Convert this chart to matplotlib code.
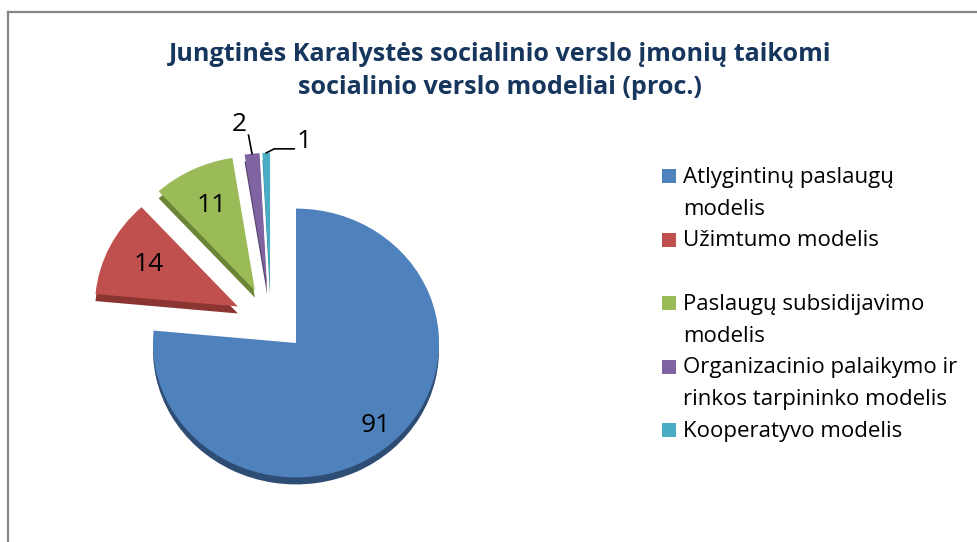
import textwrap
import matplotlib
matplotlib.use("Agg")
import matplotlib.pyplot as plt
from matplotlib.lines import Line2D
from matplotlib.patches import Rectangle
import numpy as np

# ---- data ----
categories = [
    "Atlygintinų paslaugų modelis",
    "Užimtumo modelis",
    "Paslaugų subsidijavimo modelis",
    "Organizacinio palaikymo ir rinkos tarpininko modelis",
    "Kooperatyvo modelis",
]
values = [91, 14, 11, 2, 1]
title = "Jungtinės Karalystės socialinio verslo įmonių taikomi\nsocialinio verslo modeliai (proc.)"

# ---- style ----
colors = ["#4F81BD", "#C0504D", "#9BBB59", "#8064A2", "#4BACC6"]
dark = ["#2E4D75", "#8A3532", "#6B8435", "#57466F", "#2F8197"]
FONT = "Open Sans"
W, H = 978, 542
K = 0.94          # vertical squash of the tilted pie
R = 143           # radius in px
DEPTH = 7         # 3-D thickness in px

fig = plt.figure(figsize=(W / 100, H / 100), dpi=100)
ax = fig.add_axes([0, 0, 1, 1])
ax.set_xlim(0, W)
ax.set_ylim(0, H / K)
ax.axis("off")


def d(xp, yp):
    """pixel (from top-left) -> data coords"""
    return (xp, (H - yp) / K)


total = sum(values)
fmt = lambda p: f"{p * total / 100:.0f}"

c_main = d(296, 343)
c_expl = d(296 - 25, 343 - 21)
explode = [0, 37, 37, 37, 37]

for center, expl, vis in [(c_main, [0] * 5, [0]), (c_expl, explode, [1, 2, 3, 4])]:
    # thickness
    sh, _ = ax.pie(values, colors=dark, startangle=90, counterclock=False, radius=R,
                   center=(center[0], center[1] - DEPTH / K), explode=expl, frame=True,
                   wedgeprops=dict(linewidth=0))
    wd, tx, at = ax.pie(values, colors=colors, startangle=90, counterclock=False, radius=R,
                        center=center, explode=expl, frame=True, autopct=fmt,
                        pctdistance=0.83 if vis == [0] else 0.7,
                        wedgeprops=dict(linewidth=0),
                        textprops=dict(fontsize=19, family=FONT, color="black"))
    for i in range(5):
        show = i in vis
        sh[i].set_visible(show)
        wd[i].set_visible(show)
        at[i].set_visible(show)
        sh[i].set_zorder(1)
        wd[i].set_zorder(2)
        at[i].set_zorder(5)
    if vis == [0]:
        main_wedges = wd
    else:
        expl_wedges, expl_txt = wd, at

ax.set_xlim(0, W)
ax.set_ylim(0, H / K)
ax.set_aspect("auto")
ax.axis("off")


def polar(w, r_frac, ang):
    cx, cy = w.center
    a = np.deg2rad(ang)
    return cx + R * r_frac * np.cos(a), cy + R * r_frac * np.sin(a)


# small slices: labels outside with leader lines
w = expl_wedges[3]
mid = (w.theta1 + w.theta2) / 2
p0 = polar(w, 1.0, mid)
p1 = polar(w, 1.14, mid + 0.5)
ax.plot([p0[0], p1[0]], [p0[1], p1[1]], color="black", lw=1.2, zorder=6)
expl_txt[3].set_position(polar(w, 1.23, mid + 3))
expl_txt[3].set_ha("center")
expl_txt[3].set_va("center")

w = expl_wedges[4]
mid = (w.theta1 + w.theta2) / 2
p0 = polar(w, 1.0, mid)
p1 = (p0[0] + 8, p0[1] + 4 / K)
p2 = (p1[0] + 20, p1[1])
ax.plot([p0[0], p1[0], p2[0]], [p0[1], p1[1], p2[1]], color="black", lw=1.2, zorder=6)
expl_txt[4].set_position((p2[0] + 2, p2[1] + 7 / K))
expl_txt[4].set_ha("left")
expl_txt[4].set_va("center")

# ---- title ----
fig.text(500 / W, 1 - 71 / H, title, ha="center", va="center", fontsize=18.1,
         fontweight="bold", family=FONT, color="#17365D", linespacing=1.45)

# ---- legend (manual, Excel style) ----
lx_sq, lx_txt = 662, 683
y0, entry_h, line_h = 183, 63.5, 31.7
for i, (cat, col) in enumerate(zip(categories, colors)):
    base = y0 + i * entry_h
    fig.patches.append(Rectangle((lx_sq / W, 1 - base / H), 14 / W, 14 / H,
                                 transform=fig.transFigure, facecolor=col, edgecolor="none"))
    for j, line in enumerate(textwrap.wrap(cat, 26)):
        fig.text(lx_txt / W, 1 - (base + j * line_h) / H, line, ha="left", va="baseline",
                 fontsize=16, family=FONT, color="black")

# ---- partial chart frame ----
fc = "#868686"
fig.add_artist(Line2D([8 / W, 8 / W], [0, 1 - 12 / H], transform=fig.transFigure, color=fc, lw=1.6))
fig.add_artist(Line2D([8 / W, 1], [1 - 12 / H, 1 - 12 / H], transform=fig.transFigure, color=fc, lw=1.6))

fig.savefig("out.png", dpi=100, facecolor="white")
